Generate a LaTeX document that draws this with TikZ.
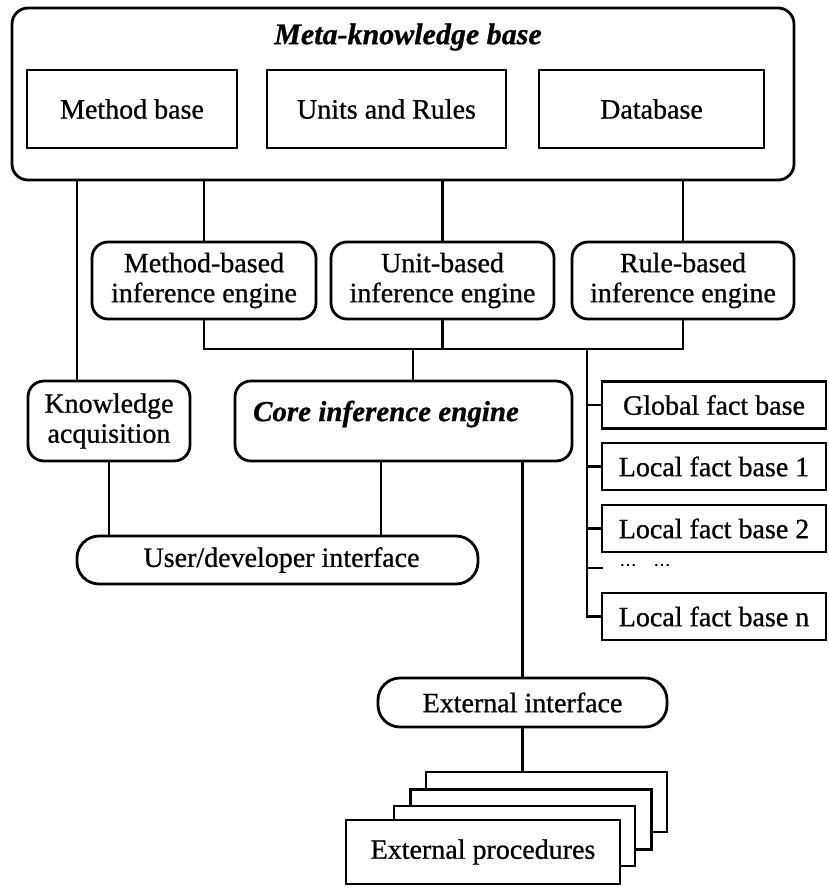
\documentclass[tikz,border=0pt]{standalone}
\usepackage{fontspec}
\setmainfont{Liberation Serif}[FakeBold=0.8]
\begin{document}
\begin{tikzpicture}[x=1pt,y=-1pt,
  line width=2.8pt,
  txt/.style={font=\fontsize{28}{30}\selectfont},
  sqbox/.style={draw, rectangle, inner sep=0pt, fill=white, txt, align=center},
  rbox/.style={sqbox, rounded corners=16pt},
  pill/.style={sqbox, rounded corners=22pt},
  plain/.style={inner sep=0pt, txt, align=center},
]
\useasboundingbox (0,0) rectangle (828,888);

% meta-knowledge base and its three parts
\node[rbox, minimum width=782pt, minimum height=172pt] (meta) at (403,94) {};
\node[plain, font=\fontsize{30}{32}\selectfont\bfseries\itshape] (metatitle) at (408,37) {Meta-knowledge base};
\node[sqbox, minimum width=210pt, minimum height=78pt] (mb) at (132,109) {Method base};
\node[sqbox, minimum width=239pt, minimum height=78pt] (ur) at (386.5,109) {Units and Rules};
\node[sqbox, minimum width=225pt, minimum height=78pt] (db) at (651.5,109) {Database};

% inference engines
\node[rbox, minimum width=224pt, minimum height=77pt] (me) at (204,280.5) {Method-based\\inference engine};
\node[rbox, minimum width=223pt, minimum height=77pt] (ue) at (442.5,280.5) {Unit-based\\inference engine};
\node[rbox, minimum width=222pt, minimum height=77pt] (re) at (683,280.5) {Rule-based\\inference engine};

% middle row
\node[rbox, minimum width=162pt, minimum height=80pt] (ka) at (109,421) {Knowledge\\acquisition};
\node[rbox, minimum width=337pt, minimum height=80pt] (core) at (403.5,421) {};
\node[plain, font=\fontsize{29}{31}\selectfont\bfseries\itshape] (coretext) at (386,414) {Core inference engine};

% fact bases
\node[sqbox, minimum width=224pt, minimum height=47pt] (gf) at (714,405) {Global fact base};
\node[sqbox, minimum width=224pt, minimum height=47pt] (l1) at (714,466.5) {Local fact base 1};
\node[sqbox, minimum width=224pt, minimum height=47pt] (l2) at (714,528.5) {Local fact base 2};
\node[plain, font=\fontsize{17}{18}\selectfont] (dots) at (645,565) {\ldots\quad\ldots};
\node[sqbox, minimum width=224pt, minimum height=47pt] (ln) at (714,616.5) {Local fact base n};

% interfaces
\node[pill, minimum width=401pt, minimum height=48pt] (ui) at (277.5,560) {\hspace*{8pt}User/developer interface};
\node[pill, minimum width=289pt, minimum height=49pt] (ei) at (522.5,702.5) {External interface};

% stacked external procedures, back to front
\node[sqbox, minimum width=241pt, minimum height=60pt] (p1) at (546.5,802) {};
\node[sqbox, minimum width=241pt, minimum height=60pt] (p2) at (531,819.5) {};
\node[sqbox, minimum width=241pt, minimum height=60pt] (p3) at (514.5,836) {};
\node[sqbox, minimum width=274pt, minimum height=64pt] (pf) at (483,852) {External procedures};

% routing coordinates
\coordinate (kx) at (77,0);
\coordinate (bus) at (0,349);
\coordinate (corein) at (413,349);
\coordinate (factbus) at (587,349);
\coordinate (cux) at (381,0);
\coordinate (dtick) at (603,568);

% meta base to engines and knowledge acquisition
\draw (meta.south -| kx) -- (ka.north -| kx);
\draw (meta.south -| me.north) -- (me.north);
\draw (meta.south -| ue.north) -- (ue.north);
\draw (meta.south -| re.north) -- (re.north);

% engines onto the common bus
\draw (me.south) -- (me.south |- bus) -- (re.south |- bus) -- (re.south);
\draw (ue.south) -- (ue.south |- bus);
\draw (corein) -- (corein |- core.north);

% fact base column
\draw (factbus) |- (ln.west);
\draw (factbus |- gf.west) -- (gf.west);
\draw (factbus |- l1.west) -- (l1.west);
\draw (factbus |- l2.west) -- (l2.west);
\draw (factbus |- dtick) -- (dtick);

% down to the interfaces
\draw (ka.south) -- (ka.south |- ui.north);
\draw (core.south -| cux) -- (ui.north -| cux);
\draw (core.south -| ei.north) -- (ei.north);
\draw (ei.south) -- (ei.south |- p1.north);
\end{tikzpicture}
\end{document}
